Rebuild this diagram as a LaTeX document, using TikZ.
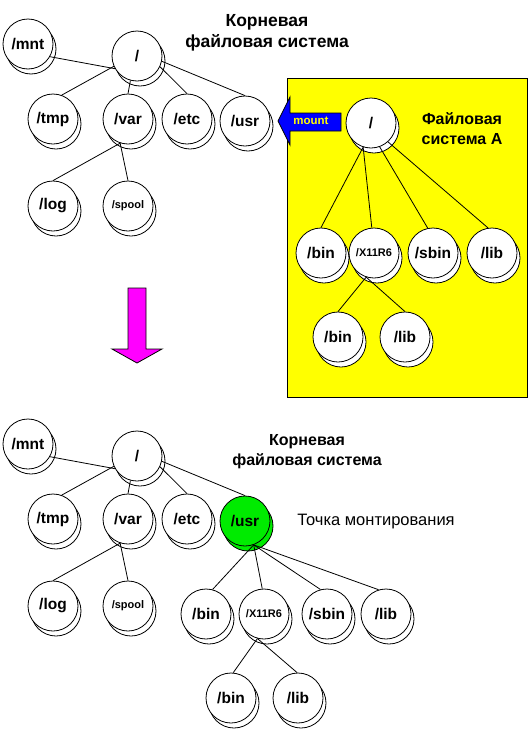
\documentclass[tikz,border=0pt]{standalone}
\usepackage{fontspec}
\setmainfont{Liberation Sans}
\usetikzlibrary{shadows}
\definecolor{usrgreen}{RGB}{0,235,0}
\definecolor{boxyellow}{RGB}{255,255,0}
\definecolor{arrowpink}{RGB}{255,0,255}
\definecolor{arrowblue}{RGB}{0,0,255}

\begin{document}
\begin{tikzpicture}[x=1pt,y=-1pt,line width=0.8pt]
  \tikzstyle{dir}=[circle,draw,fill=white,minimum size=50pt,inner sep=0pt,
    font=\bfseries\fontsize{15.5}{17}\selectfont,
    copy shadow={shadow xshift=3pt,shadow yshift=-5pt}]
  \tikzstyle{small}=[font=\bfseries\fontsize{11}{13}\selectfont]
  \tikzstyle{title}=[align=center,font=\bfseries\fontsize{16}{20}\selectfont]
  \useasboundingbox (0,0) rectangle (529,750);

  % root file system, before mount
  \node[title,font=\bfseries\fontsize{17.5}{21}\selectfont] (t1) at (267,33) {Корневая\\файловая система};
  \node[dir] (mnt) at (28,44) {/mnt};
  \node[dir] (root) at (137,56) {/};
  \node[dir] (tmp) at (53,119) {/tmp};
  \node[dir] (var) at (128,119) {/var};
  \node[dir] (etc) at (187,119) {/etc};
  \node[dir] (usr) at (245,121) {/usr};
  \node[dir] (log) at (53,206) {/log};
  \node[dir,small] (spool) at (128,206) {/spool};
  \draw (mnt.-30) -- (root.210);
  \draw (root.204) -- (tmp.70);
  \draw (root.255) -- (var.90);
  \draw (root.-25) -- (etc.90);
  \draw (root.-12) -- (usr.90);
  \draw (var.252) -- (log.90);
  \draw (var.252) -- (spool.90);

  % file system A
  \draw[fill=boxyellow] (287,78) rectangle (527,397);
  \node[title] (ta) at (462,129) {Файловая\\система А};
  \node[dir] (aroot) at (371,123) {/};
  \node[dir] (abin) at (321,253) {/bin};
  \node[dir,small] (ax) at (374,253) {/X11R6};
  \node[dir] (asbin) at (433,253) {/sbin};
  \node[dir] (alib) at (492,253) {/lib};
  \node[dir] (abin2) at (338,337) {/bin};
  \node[dir] (alib2) at (405,337) {/lib};
  \draw (aroot.252) -- (abin.90);
  \draw (aroot.252) -- (ax.95);
  \draw (aroot.290) -- (asbin.102);
  \draw (aroot.312) -- (alib.99);
  \draw (ax.252) -- (abin2.90);
  \draw (ax.252) -- (alib2.90);

  % mount arrow
  \draw[fill=arrowblue] (278,121) -- (290,97) -- (290,113) -- (341,113) -- (341,131)
    -- (290,131) -- (290,145) -- cycle;
  \node[text=boxyellow,font=\bfseries\fontsize{11.5}{13}\selectfont] (mlbl) at (311,121) {mount};

  % down arrow
  \draw[fill=arrowpink] (128,288) -- (146,288) -- (146,349) -- (162,349) -- (137,363)
    -- (112,349) -- (128,349) -- cycle;

  % root file system, after mount
  \node[title] (t2) at (307,452) {Корневая\\файловая система};
  \node[dir] (bmnt) at (28,444) {/mnt};
  \node[dir] (broot) at (137,456) {/};
  \node[dir] (btmp) at (53,519) {/tmp};
  \node[dir] (bvar) at (128,519) {/var};
  \node[dir] (betc) at (187,519) {/etc};
  \node[dir,fill=usrgreen] (busr) at (245,521) {/usr};
  \node[dir] (blog) at (53,606) {/log};
  \node[dir,small] (bspool) at (128,606) {/spool};
  \node[dir] (bbin) at (206,614) {/bin};
  \node[dir,small] (bx) at (264,614) {/X11R6};
  \node[dir] (bsbin) at (327,614) {/sbin};
  \node[dir] (blib) at (386,614) {/lib};
  \node[dir] (bbin2) at (231,698) {/bin};
  \node[dir] (blib2) at (298,698) {/lib};
  \node[font=\fontsize{16.5}{18}\selectfont] (tp) at (376,522) {Точка монтирования};
  \draw (bmnt.-30) -- (broot.210);
  \draw (broot.204) -- (btmp.70);
  \draw (broot.255) -- (bvar.90);
  \draw (broot.-25) -- (betc.90);
  \draw (broot.-12) -- (busr.90);
  \draw (bvar.252) -- (blog.90);
  \draw (bvar.252) -- (bspool.90);
  \draw (busr.290) -- (bbin.75);
  \draw (busr.290) -- (bx.94);
  \draw (busr.290) -- (bsbin.105);
  \draw (busr.290) -- (blib.107);
  \draw (bx.255) -- (bbin2.85);
  \draw (bx.255) -- (blib2.92);
\end{tikzpicture}
\end{document}
